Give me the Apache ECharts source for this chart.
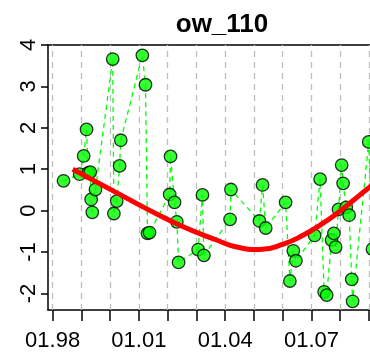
<!DOCTYPE html>
<html>
<head>
<meta charset="utf-8">
<script src="https://cdn.jsdelivr.net/npm/echarts@6/dist/echarts.min.js"></script>
<style>
html,body{margin:0;padding:0;background:#fff;}
#c{width:370px;height:357px;}
</style>
</head>
<body>
<div id="c"></div>
<script>
// ---- data ----
var titleText = "ow_110";
var obsYears = [1998.38,1998.94,1999.08,1999.18,1999.24,1999.31,1999.34,1999.38,1999.49,
  2000.09,2000.13,2000.23,2000.33,2000.37,
  2001.12,2001.23,2001.30,2001.37,
  2002.07,2002.10,2002.24,2002.32,2002.38,
  2003.06,2003.21,2003.26,
  2004.17,2004.20,
  2005.19,2005.30,2005.41,
  2006.10,2006.25,2006.37,2006.46,
  2007.11,2007.30,2007.44,2007.53,2007.70,2007.78,2007.84,2007.94,
  2008.05,2008.10,2008.21,2008.31,2008.40,2008.43,2008.99,2009.12];
var obsValues = [0.72,0.88,1.32,1.96,0.91,0.93,0.27,-0.04,0.51,
  3.66,-0.07,0.23,1.08,1.70,
  3.75,3.04,-0.55,-0.53,
  0.39,1.31,0.20,-0.27,-1.25,
  -0.94,0.38,-1.08,
  -0.21,0.51,
  -0.25,0.62,-0.42,
  0.20,-1.70,-0.97,-1.21,
  -0.60,0.76,-1.96,-2.04,-0.71,-0.55,-0.88,0.03,
  1.10,0.66,0.08,-0.11,-1.66,-2.19,1.66,-0.93];
var trendYears = [1998.70,1999.99,2001.39,2002.54,2003.70,2004.40,2005.21,2006.02,2006.72,2007.30,2007.88,2008.46,2009.04,2009.15];
var trendValues = [1.00,0.52,0.00,-0.39,-0.71,-0.88,-0.94,-0.81,-0.59,-0.35,-0.07,0.25,0.58,0.64];
var gridYears = [1998,1999,2000,2001,2002,2003,2004,2005,2006,2007,2008,2009];
var xLabelYears = [1998,2001,2004,2007];
var xLabelTexts = ["01.98","01.01","01.04","01.07"];
var yTicks = [-2,-1,0,1,2,3,4];

// ---- build ----
var obs = obsYears.map(function(y,i){return [y, obsValues[i]];});
var trend = trendYears.map(function(y,i){return [y, trendValues[i]];});
var font = "'Liberation Sans', Arial, Helvetica, sans-serif";
var xMin = 1997.84, xMax = 2009.035;

var chart = echarts.init(document.getElementById('c'), null, {renderer:'canvas'});
chart.setOption({
  animation:false,
  backgroundColor:'#fff',
  title:{
    text:titleText, left:217, top:7, textAlign:'center',
    textStyle:{fontFamily:font, fontWeight:'bold', fontSize:26, color:'#000'}
  },
  grid:{left:48, top:45, right:0, bottom:47, show:false},
  xAxis:[{
    type:'value', min:xMin, max:xMax, position:'bottom',
    axisLine:{show:true, onZero:false, lineStyle:{color:'#000', width:1.5}},
    axisTick:{show:true, customValues:gridYears, length:11, lineStyle:{color:'#000', width:1.5}},
    axisLabel:{show:true, customValues:xLabelYears, margin:20, fontFamily:font, fontSize:22, color:'#000',
      formatter:function(v){var i=xLabelYears.indexOf(Math.round(v));return i>=0?xLabelTexts[i]:'';}},
    splitLine:{show:false}
  },{
    type:'value', min:xMin, max:xMax, position:'top',
    axisLine:{show:true, onZero:false, lineStyle:{color:'#000', width:1.5}},
    axisTick:{show:false}, axisLabel:{show:false}, splitLine:{show:false}
  }],
  yAxis:{
    type:'value', min:-2.4, max:4,
    axisLine:{show:true, onZero:false, lineStyle:{color:'#000', width:1.5}},
    axisTick:{show:true, customValues:yTicks, length:7, lineStyle:{color:'#000', width:1.5}},
    axisLabel:{show:true, customValues:yTicks, rotate:90, margin:8, fontFamily:font, fontSize:22, color:'#000'},
    splitLine:{show:false}
  },
  series:[
    {
      type:'line', data:[], silent:true, z:1,
      markLine:{silent:true, z:1, symbol:['none','none'], label:{show:false}, animation:false,
        lineStyle:{color:'#bebebe', type:[6,5], width:1.3},
        emphasis:{disabled:true},
        data:gridYears.map(function(y){return {xAxis:y};})}
    },
    {
      type:'line', data:obs, z:2, symbol:'none', silent:true, clip:false,
      lineStyle:{color:'#00ff00', width:1.3, type:[5,4]}
    },
    {
      type:'scatter', data:obs, z:3, symbol:'circle', symbolSize:12.5, silent:true, clip:false,
      itemStyle:{color:'#00ff00', borderColor:'#000', borderWidth:1.3}
    },
    {
      type:'line', data:trend, z:4, symbol:'none', smooth:0.5, silent:true, clip:false,
      lineStyle:{color:'#ff0000', width:5}
    }
  ]
});
</script>
</body>
</html>
